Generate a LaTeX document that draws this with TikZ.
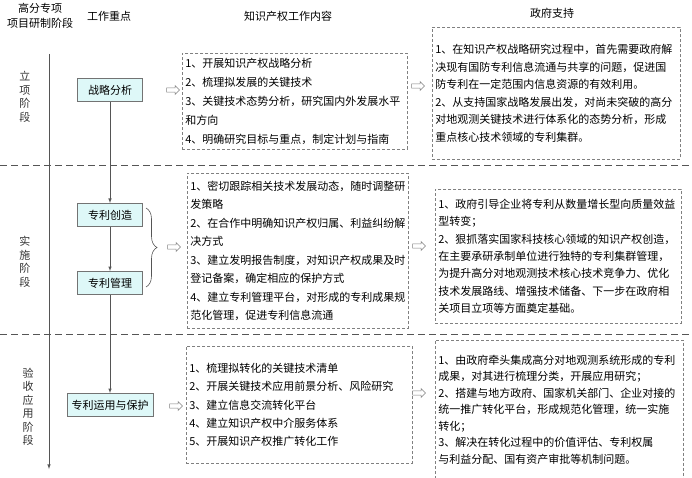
\documentclass[tikz,border=0pt]{standalone}
\usepackage{fontspec}
\setmainfont{Noto Sans CJK SC}
\usetikzlibrary{arrows,positioning,calc,shapes.arrows,decorations.pathreplacing}

\definecolor{boxcyan}{RGB}{222,248,248}
\definecolor{linegray}{RGB}{85,85,85}

\begin{document}
\begin{tikzpicture}[x=1pt,y=-1pt,
    focus/.style={draw=gray!90!black, line width=0.8pt, fill=boxcyan, minimum width=65pt, minimum height=23pt, inner xsep=4.5pt, font=\fontsize{11}{13}\selectfont},
    ipbox/.style={draw=gray, dash pattern=on 3pt off 2pt, line width=0.7pt, align=left, anchor=north west, inner xsep=3pt, inner ysep=0pt, font=\fontsize{11}{#1}\selectfont},
    hollow/.style={single arrow, draw=gray, fill=white, line width=0.5pt, minimum height=13pt, minimum width=9pt, single arrow head extend=1.5pt, inner sep=1pt},
    stage/.style={align=center, text width=12pt, font=\fontsize{11}{13.5}\selectfont, text=black!80},
    head/.style={align=center, font=\fontsize{11}{15}\selectfont},
    flow/.style={-latex, draw=linegray, line width=0.6pt},
    sep/.style={draw=linegray, line width=1pt, dash pattern=on 7pt off 4pt}]

    \useasboundingbox (0,0) rectangle (692,478);

    % column heads
    \node[head] (hstage) at (40,16) {高分专项\\项目研制阶段};
    \node[head] (hfocus) at (109,16) {工作重点};
    \node[head] (hip)    at (288,16) {知识产权工作内容};
    \node[head] (hgov)   at (552,13) {政府支持};

    % time axis
    \coordinate (ttop) at (49,54);
    \coordinate (tbot) at (49,469);
    \draw[flow] (ttop) -- (tbot);

    % stage borders
    \coordinate (s1l) at (0,166);
    \coordinate (s1r) at (692,166);
    \coordinate (s2l) at (0,334);
    \coordinate (s2r) at (692,334);
    \draw[sep] (s1l) -- (s1r);
    \draw[sep] (s2l) -- (s2r);

    % stages
    \node[stage] (st1) at (25,97)  {立\\项\\阶\\段};
    \node[stage] (st2) at (25,262) {实\\施\\阶\\段};
    \node[stage] (st3) at (28,407) {验\\收\\应\\用\\阶\\段};

    % work focus
    \node[focus] (zl) at (110,90)  {战略分析};
    \node[focus] (cz) at (110,215) {专利创造};
    \node[focus] (gl) at (110,283) {专利管理};
    \node[focus] (yy) at (110,405) {专利运用与保护};
    \draw[flow] (zl.south) -- (cz.north);
    \draw[flow] (cz.south) -- (gl.north);
    \draw[flow] (gl.south) -- (yy.north);

    % brace for the second stage
    \coordinate (bt) at (146,208);
    \coordinate (bb) at (146,287);
    \draw[draw=linegray, line width=0.6pt, decorate, decoration={brace, amplitude=11pt}] (bt) -- (bb);

    % ip work content
    \node[ipbox=19, minimum width=225pt, minimum height=96pt, text width=219pt] (ip1) at (182,53)
        {1、开展知识产权战略分析\\2、梳理拟发展的关键技术\\3、关键技术态势分析，研究国内外发展水平\\和方向\\4、明确研究目标与重点，制定计划与指南};
    \node[ipbox=18.5, minimum width=221pt, minimum height=155pt, text width=215pt] (ip2) at (187,173)
        {1、密切跟踪相关技术发展动态，随时调整研\\发策略\\2、在合作中明确知识产权归属、利益纠纷解\\决方式\\3、建立发明报告制度，对知识产权成果及时\\登记备案，确定相应的保护方式\\4、建立专利管理平台，对形成的专利成果规\\范化管理，促进专利信息流通};
    \node[ipbox=18.25, minimum width=226pt, minimum height=117pt, text width=220pt] (ip3) at (186,346)
        {1、梳理拟转化的关键技术清单\\2、开展关键技术应用前景分析、风险研究\\3、建立信息交流转化平台\\4、建立知识产权中介服务体系\\5、开展知识产权推广转化工作};

    % government support
    \node[ipbox=17.6, minimum width=248pt, minimum height=132pt, text width=242pt] (gov1) at (432,27)
        {1、在知识产权战略研究过程中，首先需要政府解\\决现有国防专利信息流通与共享的问题，促进国\\防专利在一定范围内信息资源的有效利用。\\2、从支持国家战略发展出发，对尚未突破的高分\\对地观测关键技术进行体系化的态势分析，形成\\重点核心技术领域的专利集群。};
    \node[ipbox=17.3, minimum width=246pt, minimum height=134pt, text width=240pt] (gov2) at (435,189)
        {1、政府引导企业将专利从数量增长型向质量效益\\型转变；\\2、狠抓落实国家科技核心领域的知识产权创造，\\在主要承研承制单位进行独特的专利集群管理，\\为提升高分对地观测技术核心技术竞争力、优化\\技术发展路线、增强技术储备、下一步在政府相\\关项目立项等方面奠定基础。};
    \node[ipbox=16.5, draw=none, minimum width=248pt, minimum height=138pt, text width=242pt] (gov3) at (435,340)
        {1、由政府牵头集成高分对地观测系统形成的专利\\成果，对其进行梳理分类，开展应用研究；\\2、搭建与地方政府、国家机关部门、企业对接的\\统一推广转化平台，形成规范化管理，统一实施\\转化；\\3、解决在转化过程中的价值评估、专利权属\\与利益分配、国有资产审批等机制问题。};
    \draw[draw=gray, dash pattern=on 3pt off 2pt, line width=0.7pt] (gov3.south west) -- (gov3.north west) -- (gov3.north east) -- (gov3.south east);

    % hollow arrows
    \node[hollow] (a1) at (172,90)  {};
    \node[hollow] (a2) at (173,247) {};
    \node[hollow] (a3) at (175,406) {};
    \node[hollow] (b1) at (417,86)  {};
    \node[hollow] (b2) at (418,246) {};
    \node[hollow] (b3) at (418,393) {};
\end{tikzpicture}
\end{document}
